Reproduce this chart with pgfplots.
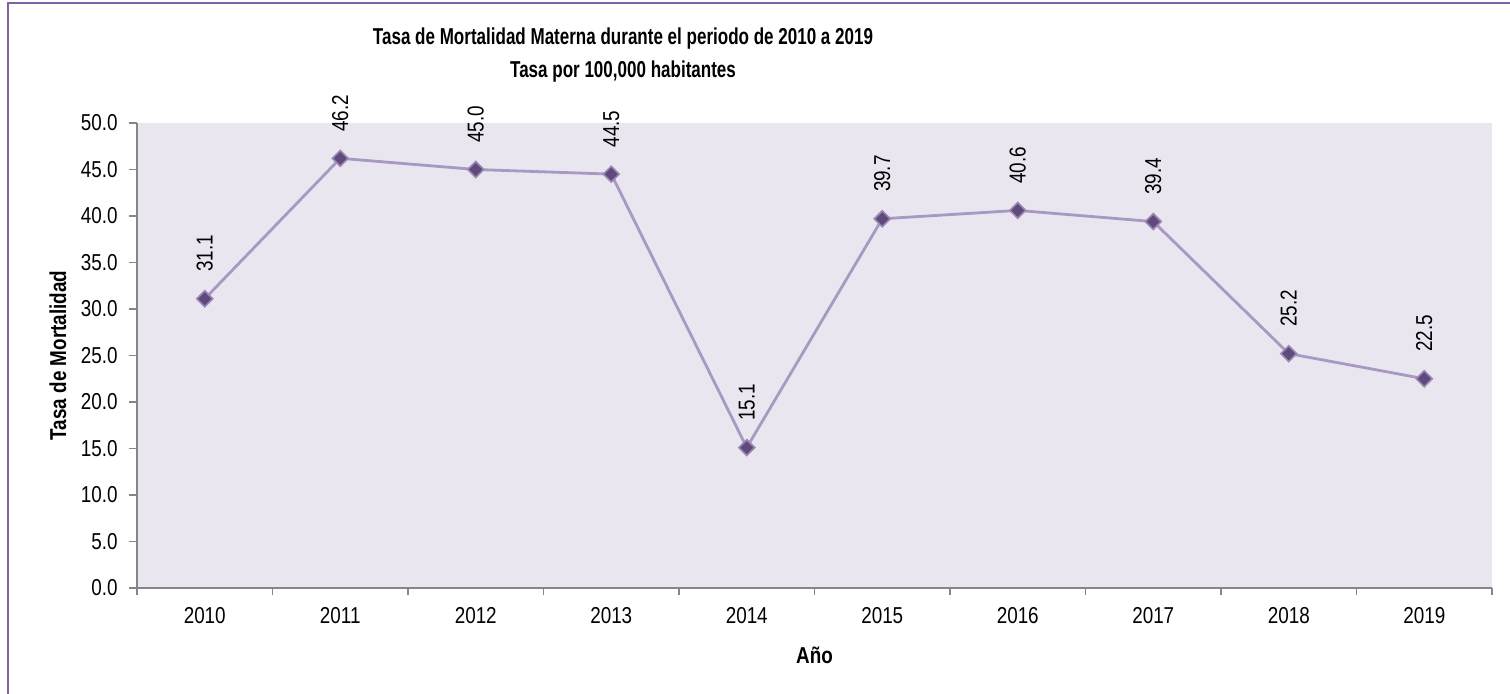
\documentclass[border=0pt]{standalone}
\usepackage{fontspec}
\setmainfont{Liberation Sans}[FakeStretch=0.82]
\newfontfamily\titlefont{Liberation Sans}[FakeStretch=0.74]
\usepackage{pgfplots}
\pgfplotsset{compat=1.18}
\definecolor{framecol}{HTML}{8064A2}
\definecolor{axisgray}{HTML}{868686}
\definecolor{bgcol}{HTML}{E9E6EF}
\definecolor{linecol}{HTML}{A898C2}
\definecolor{markcol}{HTML}{604A7B}
\definecolor{markedge}{HTML}{9A87B5}
\begin{document}
\begin{tikzpicture}[font=\fontsize{11.5}{14}\selectfont]
\useasboundingbox (0,0) rectangle (755pt,347pt);
\draw[framecol, line width=1pt] (4pt,0) -- (4pt,345.5pt) -- (755pt,345.5pt);
\begin{axis}[
  at={(68.5pt,53pt)}, anchor=south west,
  width=677.5pt, height=232.5pt, scale only axis,
  xmin=-0.5, xmax=9.5, ymin=0, ymax=50,
  clip=false,
  axis x line*=bottom, axis y line*=left,
  axis line style={draw=axisgray, line width=0.75pt, -},
  axis background/.style={fill=bgcol},
  xtick={0,...,9},
  xticklabels={2010,2011,2012,2013,2014,2015,2016,2017,2018,2019},
  minor xtick={-0.5,0.5,...,9.5},
  ytick={0,5,...,50},
  tick align=outside, major tick length=4pt, minor tick length=3.5pt,
  major x tick style={draw=none},
  minor x tick style={draw=axisgray, line width=0.75pt},
  major y tick style={draw=axisgray, line width=0.75pt},
  /pgf/number format/assume math mode=true,
  yticklabel={\pgfmathprintnumber[fixed,fixed zerofill,precision=1]{\tick}},
  yticklabel style={xshift=-2.2pt},
  xticklabel style={yshift=-2.2pt},
  xlabel={\textbf{Año}},
  ylabel={\textbf{Tasa de Mortalidad}},
  every axis x label/.style={at={(axis description cs:0.5,-0.144)}, anchor=center},
  every axis y label/.style={at={(axis description cs:-0.0583,0.5)}, rotate=90, anchor=center},
  nodes near coords={\pgfmathprintnumber[fixed,fixed zerofill,precision=1,assume math mode=true]{\pgfplotspointmeta}},
  every node near coord/.append style={rotate=90, anchor=west, inner xsep=13pt, inner ysep=0pt, text=black},
]
\addplot[color=linecol, line width=1.4pt, mark=square*, mark size=2.8pt,
  mark options={rotate=45, fill=markcol, draw=markedge, line width=0.8pt}]
  coordinates {(0,31.1) (1,46.2) (2,45.0) (3,44.5) (4,15.1) (5,39.7) (6,40.6) (7,39.4) (8,25.2) (9,22.5)};
\end{axis}
\node[anchor=base, font=\titlefont\fontsize{11.5}{14}\selectfont\bfseries] at (311.5pt,324.5pt) {Tasa de Mortalidad Materna durante el periodo de 2010 a 2019};
\node[anchor=base, font=\titlefont\fontsize{11.5}{14}\selectfont\bfseries] at (311.5pt,308pt) {Tasa por 100,000 habitantes};
\end{tikzpicture}
\end{document}
